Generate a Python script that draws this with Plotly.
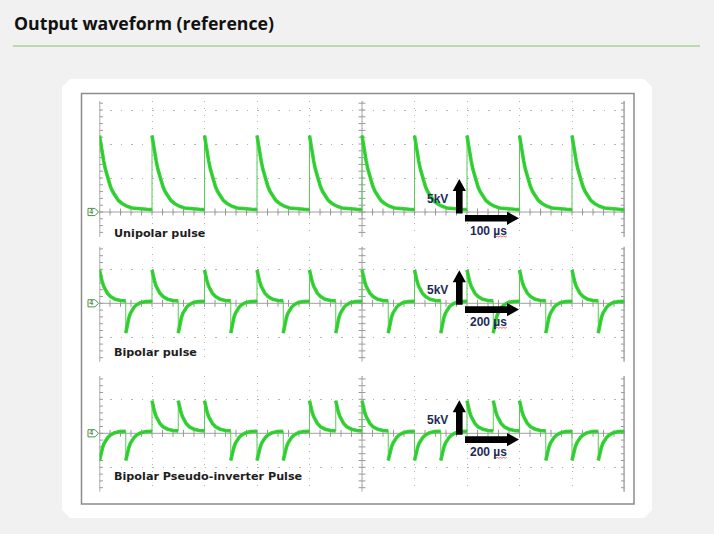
import numpy as np
import plotly.graph_objects as go

W, H = 714, 534

# ---- pulse trains (x in divisions) ----
UNIPOLAR_T = [0, 1, 2, 3, 4, 5, 6, 7, 8, 9]
UNIPOLAR_KIND = ["U", "U", "U", "U", "U", "U", "U", "U", "U", "U"]

BIPOLAR_T = [0.0, 0.5, 1.0, 1.5, 2.0, 2.5, 3.0, 3.5, 4.0, 4.5,
             5.0, 5.5, 6.0, 6.5, 7.0, 7.5, 8.0, 8.5, 9.0, 9.5]
BIPOLAR_KIND = ["P", "N", "P", "N", "P", "N", "P", "N", "P", "N",
                "P", "N", "P", "N", "P", "N", "P", "N", "P", "N"]

PSEUDO_T = [0.0, 0.5, 1.0, 1.5, 2.0, 2.5, 3.0, 3.5, 4.0, 4.5,
            5.0, 5.5, 6.0, 6.5, 7.0, 7.5, 8.0, 8.5, 9.0, 9.5]
PSEUDO_KIND = ["N", "N", "P", "P", "P", "N", "N", "N", "P", "P",
               "P", "N", "N", "N", "P", "P", "P", "N", "N", "N"]

# ---- single pulse shapes: time after the edge (div) / level (div) ----
UNI_DX = [0, 0.02, 0.05, 0.08, 0.11, 0.15, 0.21, 0.25, 0.30, 0.36,
          0.43, 0.52, 0.62, 0.75, 0.90, 1.0]
UNI_V = [2.25, 2.02, 1.76, 1.50, 1.27, 1.02, 0.74, 0.60, 0.46, 0.34,
         0.25, 0.17, 0.12, 0.09, 0.08, 0.07]

POS_DX = [0, 0.02, 0.05, 0.08, 0.11, 0.15, 0.21, 0.30, 0.40, 0.50]
BI_POS_V = [0.98, 0.82, 0.64, 0.50, 0.40, 0.30, 0.20, 0.12, 0.08, 0.07]
PS_POS_V = [0.96, 0.80, 0.62, 0.49, 0.39, 0.29, 0.19, 0.12, 0.08, 0.07]

NEG_DX = [0, 0.02, 0.04, 0.06, 0.09, 0.12, 0.16, 0.21, 0.28, 0.38, 0.50]
BI_NEG_V = [-0.88, -0.68, -0.52, -0.42, -0.29, -0.20, -0.11, -0.04, 0.02, 0.05, 0.06]
PS_NEG_V = [-0.80, -0.63, -0.50, -0.41, -0.29, -0.20, -0.12, -0.05, 0.01, 0.05, 0.06]

LABELS = ["Unipolar pulse", "Bipolar pulse", "Bipolar Pseudo-inverter Pulse"]
TIME_SCALES = ["100 µs", "200 µs", "200 µs"]
VOLT_SCALE = "5kV"

# screen geometry (px) of the scope grid
X_LEFT, DIV_X, DIV_Y = 99.5, 52.5, 34.0
# (top, bottom, baseline, label y) for each capture
PANELS = [(101.0, 237.0, 212.0, 233.0),
          (246.7, 361.7, 303.3, 352.5),
          (376.0, 491.7, 433.3, 476.7)]

TRACE = "#38d638"
EDGE = "#5acc5a"
NAVY = "#1d2b57"


def px(x):
    return x / W


def py(y):
    return 1 - y / H


def pulse_train(ts, kinds, shapes, end=10.0):
    bx, by, ex, ey = [], [], [], []
    last = None
    for i, (t, k) in enumerate(zip(ts, kinds)):
        dx, v = shapes[k]
        stop = ts[i + 1] if i + 1 < len(ts) else end
        if last is not None:
            ex += [t, t, None]
            ey += [last, v[0], None]
        for d, val in zip(dx, v):
            if t + d <= stop + 1e-9:
                bx.append(t + d)
                by.append(val)
        last = by[-1]
        bx.append(None)
        by.append(None)
    return bx, by, ex, ey


def path(points):
    s = "M " + " L ".join("{:.5f},{:.5f}".format(px(x), py(y)) for x, y in points)
    return s + " Z"


def arrow_up(xc, ybot, ytip, sw=3.3, hw=6.6, hl=12.0):
    return path([(xc - sw, ybot), (xc - sw, ytip + hl), (xc - hw, ytip + hl), (xc, ytip),
                 (xc + hw, ytip + hl), (xc + sw, ytip + hl), (xc + sw, ybot)])


def arrow_right(yc, x0, xtip, sw=3.3, hw=6.6, hl=12.0):
    return path([(x0, yc - sw), (xtip - hl, yc - sw), (xtip - hl, yc - hw), (xtip, yc),
                 (xtip - hl, yc + hw), (xtip - hl, yc + sw), (x0, yc + sw)])


trains = [
    (UNIPOLAR_T, UNIPOLAR_KIND, {"U": (UNI_DX, UNI_V)}),
    (BIPOLAR_T, BIPOLAR_KIND, {"P": (POS_DX, BI_POS_V), "N": (NEG_DX, BI_NEG_V)}),
    (PSEUDO_T, PSEUDO_KIND, {"P": (POS_DX, PS_POS_V), "N": (NEG_DX, PS_NEG_V)}),
]

fig = go.Figure()
shapes = []
annotations = []

# page card and scope frame
shapes.append(dict(type="path", xref="paper", yref="paper", layer="below",
                   path=path([(70, 79), (644, 79), (652, 87), (652, 510), (644, 518),
                              (70, 518), (62, 510), (62, 87)]),
                   fillcolor="white", line=dict(width=0)))
shapes.append(dict(type="rect", xref="paper", yref="paper", layer="below",
                   x0=px(81.5), x1=px(634), y0=py(504), y1=py(93.5),
                   line=dict(color="#8c8c8c", width=1.5), fillcolor="white"))
shapes.append(dict(type="line", xref="paper", yref="paper",
                   x0=px(13), x1=px(700), y0=py(46), y1=py(46),
                   line=dict(color="#86c26f", width=1)))
annotations.append(dict(xref="paper", yref="paper", x=px(12), y=py(22.5),
                        xanchor="left", yanchor="middle", showarrow=False,
                        text="<b>Output waveform (reference)</b>",
                        font=dict(family="Open Sans", size=17.7, color="#111111")))

layout_axes = {}
for i, ((ts, kinds, shp), (top, bot, base, lab_y)) in enumerate(zip(trains, PANELS)):
    n = "" if i == 0 else str(i + 1)
    xa, ya = "x" + n, "y" + n
    hi = (base - top) / DIV_Y
    lo = (base - bot) / DIV_Y
    layout_axes["xaxis" + n] = dict(
        domain=[px(X_LEFT), px(X_LEFT + 10 * DIV_X)], range=[0, 10], anchor=ya,
        dtick=1, tick0=0, showgrid=True, gridcolor="#b4b4b4", gridwidth=1,
        griddash="1px,5.8px", showticklabels=False, zeroline=False,
        showline=False, ticks="", fixedrange=True)
    layout_axes["yaxis" + n] = dict(
        domain=[py(bot), py(top)], range=[lo, hi], anchor=xa,
        dtick=1, tick0=0, showgrid=True, gridcolor="#b4b4b4", gridwidth=1,
        griddash="1.5px,9px", showticklabels=False, zeroline=False,
        showline=False, ticks="", fixedrange=True)

    # solid graticule axes with minor ticks
    for xv, col, wd in ((0, "#8a8a8a", 1.4), (5, "#a6a6a6", 1), (10, "#6e6e6e", 1.8)):
        shapes.append(dict(type="line", xref=xa, yref=ya + " domain", x0=xv, x1=xv,
                           y0=0, y1=1, line=dict(color=col, width=wd), layer="below"))
    shapes.append(dict(type="line", xref=xa, yref=ya, x0=0, x1=10, y0=0, y1=0,
                       line=dict(color="#a0a0a0", width=1), layer="below"))
    ty = np.arange(np.ceil(lo / 0.2) * 0.2, hi, 0.2)
    for xv in (0, 5, 10):
        fig.add_trace(go.Scatter(x=[xv] * len(ty), y=ty, mode="markers", xaxis=xa, yaxis=ya,
                                 marker=dict(symbol="line-ew", size=5,
                                             line=dict(color="#9a9a9a", width=1)),
                                 hoverinfo="skip", showlegend=False))
    tx = np.arange(0, 10.01, 0.2)
    fig.add_trace(go.Scatter(x=tx, y=[0] * len(tx), mode="markers", xaxis=xa, yaxis=ya,
                             marker=dict(symbol="line-ns", size=5,
                                         line=dict(color="#9a9a9a", width=1)),
                             hoverinfo="skip", showlegend=False))

    bx, by, ex, ey = pulse_train(ts, kinds, shp)
    fig.add_trace(go.Scatter(x=ex, y=ey, mode="lines", xaxis=xa, yaxis=ya,
                             line=dict(color=EDGE, width=1), hoverinfo="skip",
                             showlegend=False))
    fig.add_trace(go.Scatter(x=bx, y=by, mode="lines", xaxis=xa, yaxis=ya,
                             line=dict(color=TRACE, width=3.6), name=LABELS[i],
                             showlegend=False))
    fig.add_trace(go.Scatter(x=bx, y=by, mode="lines", xaxis=xa, yaxis=ya,
                             line=dict(color="#1f9a1f", width=0.7), opacity=0.45,
                             hoverinfo="skip", showlegend=False))

    # channel-4 ground marker
    shapes.append(dict(type="path", xref="paper", yref="paper",
                       path=path([(88, base - 3.6), (95, base - 3.6), (98.5, base),
                                  (95, base + 3.6), (88, base + 3.6)]),
                       fillcolor="white", line=dict(color="#3d9c3d", width=1)))
    annotations.append(dict(xref="paper", yref="paper", x=px(91.8), y=py(base),
                            text="4", showarrow=False, xanchor="center", yanchor="middle",
                            font=dict(family="DejaVu Sans", size=7, color="#2b5a2b")))

    # scale arrows
    shapes.append(dict(type="path", xref="paper", yref="paper",
                       path=arrow_up(459.3, base + 1.5, base - 33.0),
                       fillcolor="black", line=dict(width=0)))
    shapes.append(dict(type="path", xref="paper", yref="paper",
                       path=arrow_right(base + 6.3, 465, 519),
                       fillcolor="black", line=dict(width=0)))
    annotations.append(dict(xref="paper", yref="paper", x=px(437.5), y=py(base - 13),
                            text="<b>" + VOLT_SCALE + "</b>", showarrow=False,
                            xanchor="center", yanchor="middle",
                            font=dict(family="Liberation Sans", size=12, color=NAVY)))
    annotations.append(dict(xref="paper", yref="paper", x=px(488), y=py(base + 19),
                            text="<b>" + TIME_SCALES[i] + "</b>", showarrow=False,
                            xanchor="center", yanchor="middle",
                            font=dict(family="Liberation Sans", size=12, color=NAVY)))
    # spell-check squiggle under the unit
    sq = [(494 + 1.6 * k, base + 24.3 + (0.7 if k % 2 else -0.3)) for k in range(9)]
    shapes.append(dict(type="path", xref="paper", yref="paper",
                       path="M " + " L ".join("{:.5f},{:.5f}".format(px(a), py(b)) for a, b in sq),
                       line=dict(color="#d84a4a", width=0.8)))

    annotations.append(dict(xref="paper", yref="paper", x=px(111.5), y=py(lab_y),
                            text="<b>" + LABELS[i] + "</b>", showarrow=False,
                            xanchor="left", yanchor="middle",
                            font=dict(family="DejaVu Sans", size=11.2, color="#1e1e1e")))

fig.update_layout(
    width=W, height=H, margin=dict(l=0, r=0, t=0, b=0),
    paper_bgcolor="#f1f1f1", plot_bgcolor="rgba(0,0,0,0)",
    shapes=shapes, annotations=annotations, showlegend=False,
    **layout_axes)

# the page's default 8px body margin would push the figure off the window
fig.write_html("out.html", config={"displayModeBar": False},
               post_script="document.body.style.margin='0';"
                           "document.body.style.background='#f1f1f1';")
